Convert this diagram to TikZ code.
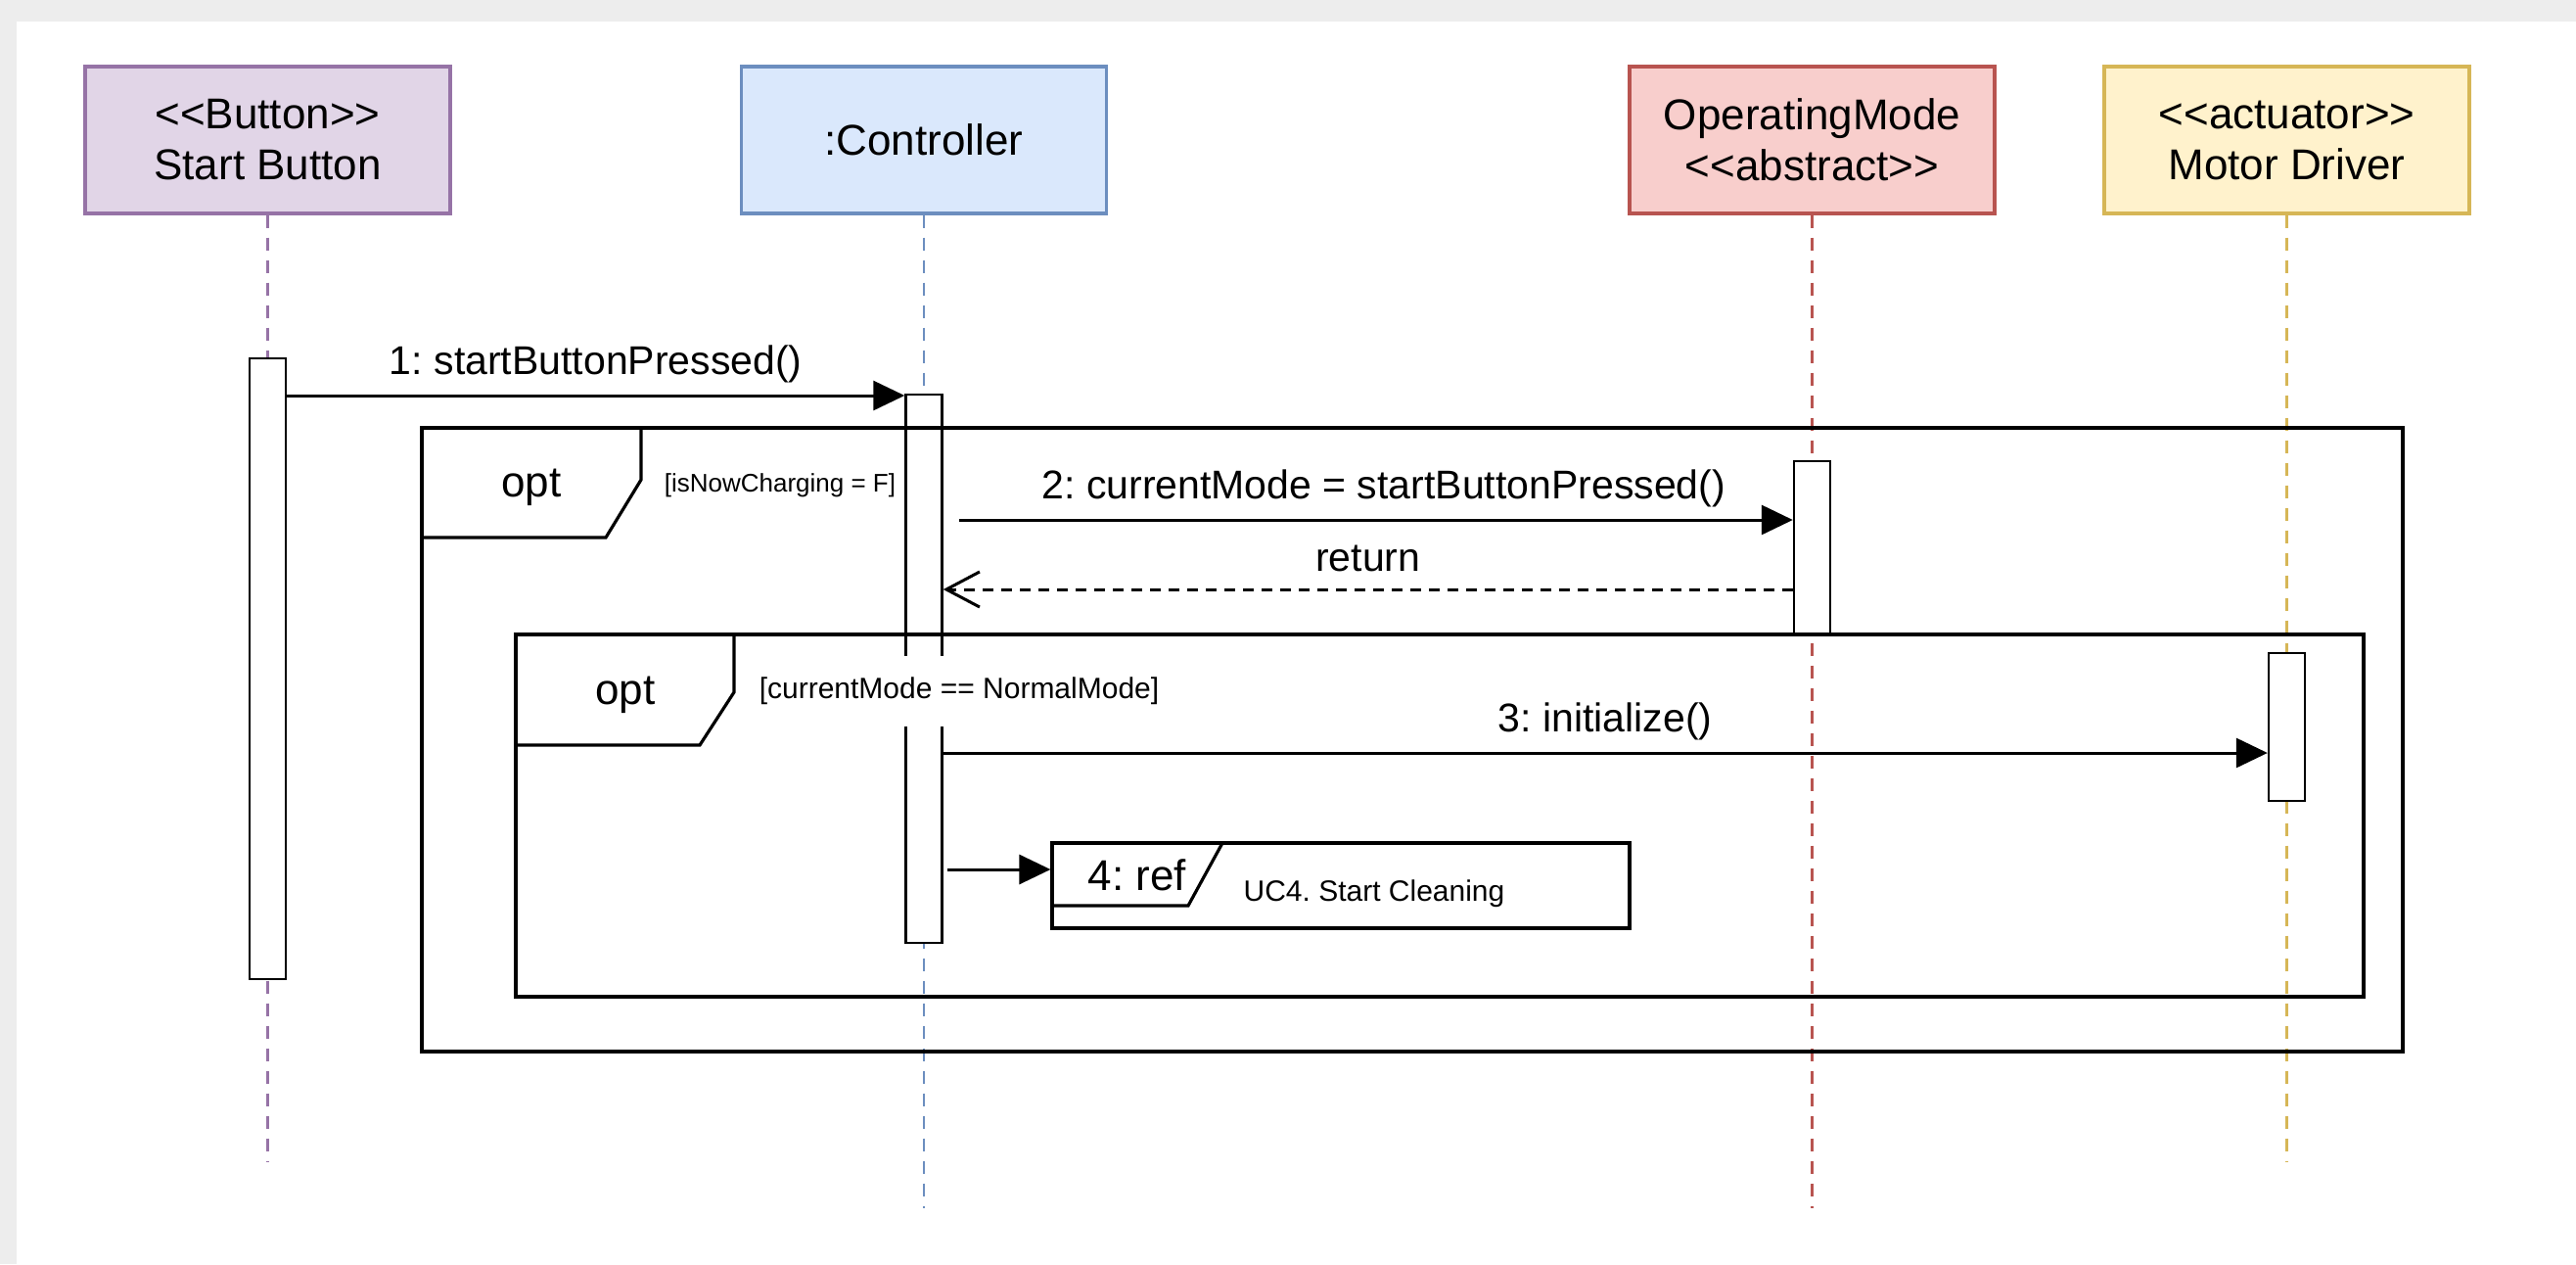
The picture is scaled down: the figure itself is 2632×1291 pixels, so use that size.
\documentclass[tikz,border=0pt]{standalone}
\usepackage{fontspec}
\setmainfont{Liberation Sans}[Ligatures=TeXOff]
\usetikzlibrary{arrows.meta}
\definecolor{bggrey}{HTML}{EDEDED}
\definecolor{purpFill}{HTML}{E1D5E7}
\definecolor{purpStroke}{HTML}{9673A6}
\definecolor{blueFill}{HTML}{DAE8FC}
\definecolor{blueStroke}{HTML}{6C8EBF}
\definecolor{redFill}{HTML}{F8CECC}
\definecolor{redStroke}{HTML}{B85450}
\definecolor{yelFill}{HTML}{FFF2CC}
\definecolor{yelStroke}{HTML}{D6B656}
\frenchspacing
\begin{document}
\frenchspacing
\begin{tikzpicture}[x=0.5pt,y=-0.5pt,
  head/.style={draw, line width=1.6pt, minimum width=186.5pt, minimum height=75pt,
    inner sep=0pt, align=center, font=\fontsize{22}{26}\selectfont},
  lifeline/.style={line width=1.2pt, dash pattern=on 6.5pt off 5pt},
  bar/.style={draw, fill=white, line width=1.2pt, minimum width=18.5pt, inner sep=0pt},
  msg/.style={line width=1.5pt, -{Triangle[length=16pt,width=15pt]}},
  retmsg/.style={line width=1.5pt, dash pattern=on 5.5pt off 4pt,
    -{Straight Barb[length=17pt,width=18pt,line width=1.5pt]}},
  lbl/.style={font=\fontsize{20.5}{24}\selectfont, inner sep=0pt},
  big/.style={font=\fontsize{22}{24}\selectfont, inner sep=0pt},
  frame/.style={draw, line width=1.6pt, inner sep=0pt},
  guardA/.style={font=\fontsize{13}{15}\selectfont, inner sep=0pt},
  guardB/.style={font=\fontsize{15}{17}\selectfont, inner sep=2pt, fill=white},
]
\useasboundingbox (0,0) rectangle (2632,1291);
\fill[bggrey] (0,0) rectangle (2632,1291);
\fill[white] (17,22) rectangle (2632,1291);

% lifeline heads
\node[head, draw=purpStroke, fill=purpFill] (sb) at (273.5,143) {<<Button>>\\Start Button};
\node[head, draw=blueStroke, fill=blueFill] (ct) at (944,143) {:Controller};
\node[head, draw=redStroke, fill=redFill] (op) at (1851.5,143) {OperatingMode\\<<abstract>>};
\node[head, draw=yelStroke, fill=yelFill] (md) at (2336.5,143) {<<actuator>>\\Motor Driver};

% lifeline ends
\coordinate (sbEnd) at (273.5,1186);
\coordinate (ctEnd) at (944,1234);
\coordinate (opEnd) at (1851.5,1234);
\coordinate (mdEnd) at (2336.5,1186);

\draw[lifeline, purpStroke] (sb.south) -- (sbEnd);
\draw[lifeline, blueStroke] (ct.south) -- (ctEnd);
\draw[lifeline, redStroke] (op.south) -- (opEnd);
\draw[lifeline, yelStroke] (md.south) -- (mdEnd);

% activation bars
\node[bar, minimum height=317pt] (sbBar) at (273.5,683) {};
\node[bar, minimum height=280pt] (ctBar) at (944,683) {};
\node[bar, minimum height=88.5pt] (opBar) at (1851.5,559.5) {};
\node[bar, minimum height=75.5pt] (mdBar) at (2336.5,742.5) {};

% message levels
\coordinate (y1) at (0,404);
\coordinate (y2) at (0,531);
\coordinate (y3) at (0,602);
\coordinate (y4) at (0,769);
\coordinate (y5) at (0,888);

% frames
\node[frame, minimum width=1012pt, minimum height=318.5pt] (of1) at (1443,755.5) {};
\draw[frame] (431,437) -- (655,437) -- (655,490) -- (619,549) -- (431,549);
\node[big] (opt1) at (543,498) {opt};
\node[guardA] (g1) at (797,496) {[isNowCharging = F]};

\node[frame, minimum width=944pt, minimum height=185pt] (of2) at (1471,833) {};
\draw[frame] (527,648) -- (750,648) -- (750,707) -- (715,761) -- (527,761);
\node[big] (opt2) at (639,710) {opt};
\node[guardB, minimum height=36pt] (g2) at (980,706) {[currentMode == NormalMode]};

\node[frame, minimum width=295pt, minimum height=43.5pt] (ref) at (1370,904.5) {};
\draw[frame] (1249,861) -- (1214,925) -- (1075,925);
\node[big] (reft) at (1162,894) {4: ref};
\node[guardB, fill=none, inner sep=0pt] (uct) at (1404,913) {UC4. Start Cleaning};

% messages
\draw[msg] (sbBar.east |- y1) -- node[lbl, yshift=16pt] (lab1) {1: startButtonPressed()} (ctBar.west |- y1);
\draw[msg, shorten <=8pt] (ctBar.east |- y2) -- node[lbl, yshift=16pt, xshift=8pt] (lab2) {2: currentMode = startButtonPressed()} (opBar.west |- y2);
\draw[retmsg] (opBar.west |- y3) -- node[lbl, yshift=16pt] (lab3) {return} (ctBar.east |- y3);
\draw[msg] (ctBar.east |- y4) -- node[lbl, yshift=16pt] (lab4) {3: initialize()} (mdBar.west |- y4);
\draw[msg, shorten <=2pt] (ctBar.east |- y5) -- (ref.west |- y5);
\end{tikzpicture}
\end{document}
